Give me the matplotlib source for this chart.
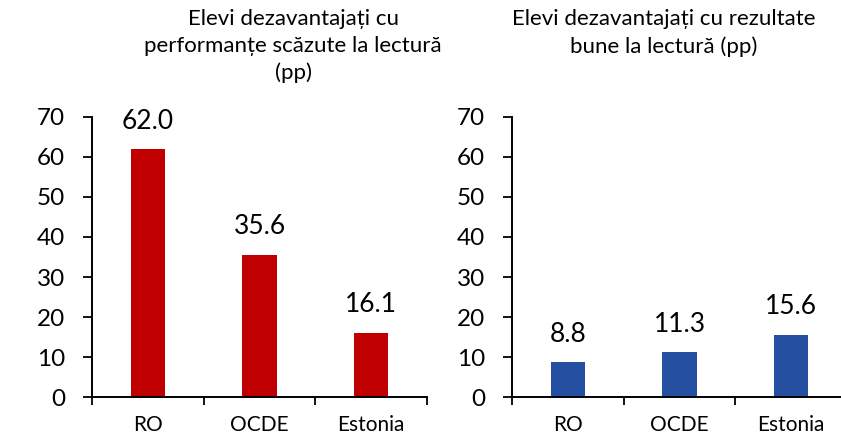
import matplotlib
matplotlib.use("Agg")
import matplotlib.pyplot as plt
import numpy as np

plt.rcParams['font.family'] = ['Lato', 'DejaVu Sans']

categories = ["RO", "OCDE", "Estonia"]
low_perf = [62.0, 35.6, 16.1]
good_res = [8.8, 11.3, 15.6]
title_left = "Elevi dezavantajați cu\nperformanțe scăzute la lectură\n(pp)"
title_right = "Elevi dezavantajați cu rezultate\nbune la lectură (pp)"
yticks = [0, 10, 20, 30, 40, 50, 60, 70]

RED = "#C00000"
BLUE = "#2550A2"

fig = plt.figure(figsize=(8.41, 4.37), dpi=100)
W, H = 841, 437

def make_ax(left_px, right_px, values, color):
    ax = fig.add_axes([left_px / W, 40 / H, (right_px - left_px) / W, 280 / H])
    x = np.arange(len(categories))
    ax.bar(x, values, width=0.31, color=color, zorder=2)
    ax.set_xlim(-0.5, len(categories) - 0.5)
    ax.set_ylim(0, 70)
    ax.set_yticks(yticks)
    ax.tick_params(axis='y', labelsize=17.5, length=6.5, width=1.3, pad=13, colors='black')
    ax.set_xticks(x)
    ax.set_xticklabels(categories)
    ax.tick_params(axis='x', which='major', length=0, labelsize=15, pad=13)
    ax.set_xticks(np.arange(-0.5, len(categories), 1.0), minor=True)
    ax.tick_params(axis='x', which='minor', length=6, width=1.3, direction='out')
    for s in ['top', 'right']:
        ax.spines[s].set_visible(False)
    for s in ['left', 'bottom']:
        ax.spines[s].set_linewidth(1.4)
    for xi, v in zip(x, values):
        ax.annotate(f"{v:.1f}", (xi, v), xytext=(0, 20), textcoords='offset points',
                    ha='center', va='center', fontsize=19)
    return ax

ax1 = make_ax(92, 427, low_perf, RED)
ax2 = make_ax(512, 847, good_res, BLUE)

fig.text(293 / W, 1 - 9 / H, title_left, ha='center', va='top', fontsize=16, linespacing=1.42)
fig.text(664 / W, 1 - 9 / H, title_right, ha='center', va='top', fontsize=16, linespacing=1.42)

fig.savefig("out.png", dpi=100)
